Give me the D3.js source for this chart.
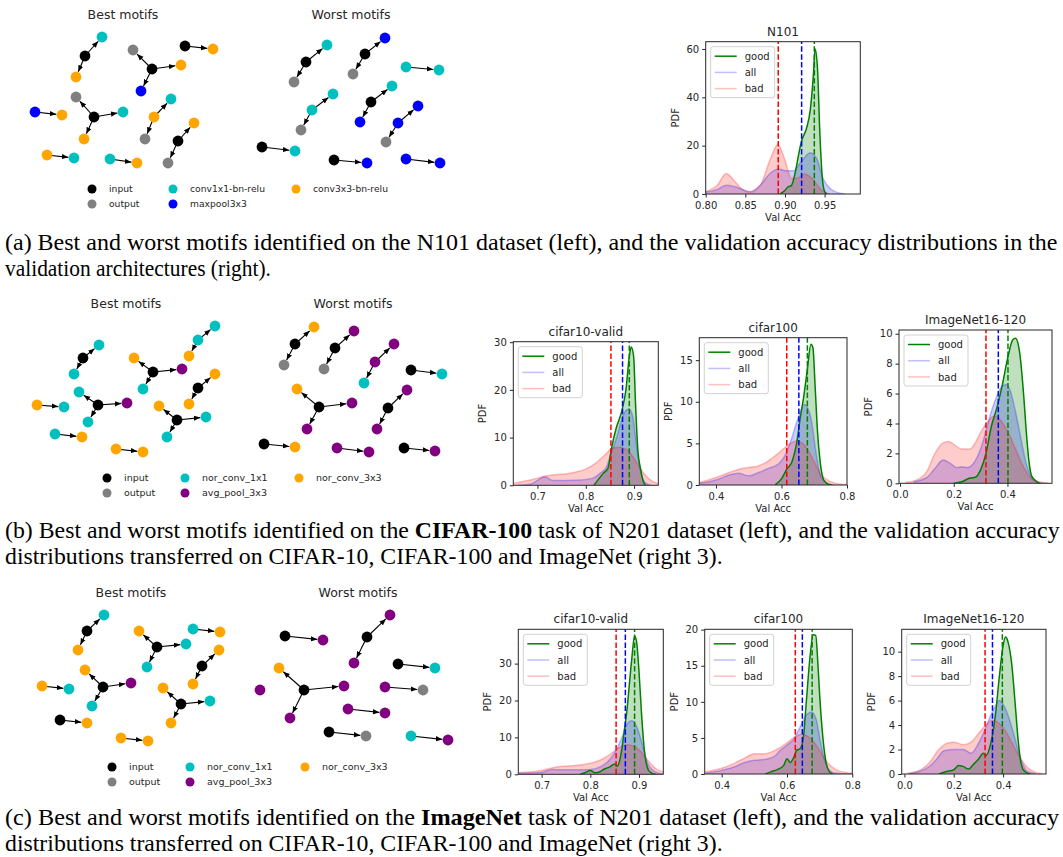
<!DOCTYPE html>
<html><head><meta charset="utf-8">
<script src="https://cdn.jsdelivr.net/npm/d3@7/dist/d3.min.js"></script>
<style>body{margin:0;background:#fff} svg{display:block} text{white-space:pre}</style>
</head><body>
<svg id="fig" width="1063" height="857"></svg>
<script>
// ---------------- DATA ----------------
const I='input', O='output';
const C1='conv1x1-bn-relu', C3='conv3x3-bn-relu', MP='maxpool3x3';
const N1='nor_conv_1x1', N3='nor_conv_3x3', AP='avg_pool_3x3';

const legendOpsA = [I, O, C1, MP, C3];
const legendOpsB = [I, O, N1, AP, N3];

// motif graphs: node 0 is the source, arrows go from node 0 to each other node; [op, u, v] layout units
const motifsABest = [
  [[I,85,56],[C1,102,37],[C3,76,77]],
  [[I,152,69],[O,133,50],[C3,181,65],[MP,141,91]],
  [[I,185,46],[C3,213,49]],
  [[MP,35,112],[C3,62,115]],
  [[I,94,117],[O,76,97],[C1,123,112],[C3,84,139]],
  [[C3,154,117],[C1,171,99],[O,145,139]],
  [[I,178,141],[C3,194,123],[O,168,163]],
  [[C3,47,155],[C1,74,158]],
  [[C1,110,159],[C3,137,163]]
];
const motifsAWorst = [
  [[I,306,62],[C1,327,45],[O,294,82]],
  [[I,365,54],[MP,385,38],[O,353,74]],
  [[C1,406,67],[C1,439,70]],
  [[C1,312,110],[C1,333,94],[O,301,130]],
  [[I,371,102],[C1,392,86],[MP,360,122]],
  [[MP,398,123],[MP,418,106],[O,386,142]],
  [[I,262,147],[C1,295,151]],
  [[I,334,160],[MP,367,163]],
  [[MP,406,159],[MP,440,163]]
];
const motifsBBest = [
  [[I,83,68],[N1,99,55],[N1,74,84]],
  [[I,153,82],[N3,134,68],[AP,182,79],[N1,143,99]],
  [[N1,198,50],[N1,215,36],[N3,189,66]],
  [[I,198,98],[N3,215,84],[N3,189,114]],
  [[I,98,115],[N1,79,102],[AP,127,113],[N1,88,132]],
  [[N3,37,115],[N1,64,117]],
  [[I,177,130],[N3,159,116],[N1,206,127],[N1,167,147]],
  [[N1,55,144],[N3,82,147]],
  [[N3,116,159],[N3,143,162]]
];
const motifsBWorst = [
  [[I,295,54],[N3,314,37],[O,284,75]],
  [[I,335,58],[AP,354,41],[O,324,79]],
  [[AP,375,72],[AP,394,54],[N1,364,93]],
  [[I,411,80],[N1,442,84]],
  [[I,319,117],[N3,297,99],[AP,352,113],[AP,307,139]],
  [[I,388,118],[AP,407,100],[AP,377,139]],
  [[I,264,154],[N3,295,157]],
  [[AP,337,158],[AP,369,162]],
  [[I,404,158],[AP,435,161]]
];
const motifsCBest = [
  [[I,87,51],[N1,104,35],[N3,78,70]],
  [[I,157,67],[N3,139,51],[N1,186,64],[N1,147,87]],
  [[N1,193,49],[N3,220,52]],
  [[I,202,86],[N3,219,70],[N3,193,104]],
  [[I,103,107],[N3,85,90],[AP,131,103],[N1,92,126]],
  [[N3,42,106],[N1,69,109]],
  [[I,181,124],[N3,163,108],[N1,210,121],[N3,171,143]],
  [[I,60,140],[N3,87,143]],
  [[N3,121,158],[N3,148,161]]
];
const motifsCWorst = [
  [[I,285,56],[AP,323,60]],
  [[I,367,57],[AP,390,35],[AP,354,83]],
  [[I,398,84],[N1,435,88]],
  [[I,304,110],[N3,279,88],[AP,344,106],[AP,290,138]],
  [[AP,260,110]],
  [[AP,385,107],[O,423,110]],
  [[AP,348,129],[AP,385,133]],
  [[I,329,152],[O,366,156]],
  [[N1,411,156],[AP,448,160]]
];

// KDE curves: [val acc, pdf]
const n101Good = [[0.894,0],[0.899,1.2],[0.904,3],[0.908,3.5],[0.913,9],[0.917,16],[0.921,22],[0.927,27],[0.932,35],[0.936,50],[0.938,60],[0.941,52],[0.944,25],[0.947,7],[0.950,1],[0.953,0]];
const n101All = [[0.80,0.8],[0.814,1.8],[0.826,3.6],[0.839,2.8],[0.856,1.0],[0.869,3.7],[0.881,8.5],[0.892,10.3],[0.902,9.6],[0.911,9.6],[0.919,12.7],[0.932,17.1],[0.940,14.7],[0.948,6.5],[0.957,2.3],[0.967,0.5],[0.976,0]];
const n101Bad = [[0.80,1.0],[0.814,3.4],[0.826,8.5],[0.837,5.1],[0.847,1.7],[0.856,0.7],[0.869,3.7],[0.881,14],[0.891,20.5],[0.900,14],[0.908,6.5],[0.915,6.5],[0.925,8.3],[0.934,6.5],[0.944,2.3],[0.953,0.3],[0.957,0]];
const n101Means = [0.937, 0.921, 0.8915];

const c10bGood = [[0.817,0],[0.836,2.5],[0.846,3.6],[0.853,7.7],[0.863,12],[0.874,15.4],[0.883,20],[0.89,27],[0.894,29],[0.899,27],[0.903,16.8],[0.908,7],[0.913,3.6],[0.919,0.8],[0.924,0]];
const c10bAll = [[0.66,0],[0.684,0.2],[0.701,1.1],[0.715,1.8],[0.732,1.0],[0.76,1.0],[0.788,1.1],[0.815,1.5],[0.829,2.5],[0.843,3.9],[0.853,7],[0.863,9.8],[0.874,13.7],[0.884,15.8],[0.89,16],[0.898,14],[0.905,8.4],[0.912,3.6],[0.92,0.9],[0.929,0.2],[0.936,0]];
const c10bBad = [[0.65,0.4],[0.68,1.0],[0.70,1.5],[0.72,2.0],[0.75,2.3],[0.78,2.8],[0.80,3.4],[0.82,4.6],[0.84,6.4],[0.855,7.8],[0.87,8.0],[0.885,7.5],[0.90,5.6],[0.915,3.2],[0.93,1.4],[0.95,0.3]];
const c10bMeans = [0.890, 0.876, 0.852];

const c100bGood = [[0.58,0],[0.601,0.8],[0.616,1.9],[0.632,2.8],[0.647,5.2],[0.657,8],[0.667,10.4],[0.678,13.6],[0.69,16.9],[0.696,16.5],[0.703,11.6],[0.71,6.4],[0.718,2.8],[0.729,0.6],[0.744,0.08],[0.754,0]];
const c100bAll = [[0.35,0.2],[0.40,0.6],[0.44,1.2],[0.47,1.4],[0.50,1.1],[0.53,1.5],[0.56,2.0],[0.59,2.5],[0.61,3.5],[0.63,5.5],[0.65,8],[0.67,9.7],[0.69,8],[0.705,4],[0.72,1.0],[0.74,0.2],[0.76,0]];
const c100bBad = [[0.35,0.3],[0.40,0.9],[0.44,1.5],[0.47,1.9],[0.50,2.1],[0.53,2.3],[0.56,2.9],[0.59,3.8],[0.62,4.8],[0.645,5.3],[0.67,4.8],[0.70,2.8],[0.72,1.3],[0.75,0.4],[0.78,0.1],[0.80,0.05]];
const c100bMeans = [0.679, 0.653, 0.616];

const inbGood = [[0.20,0],[0.23,0.1],[0.26,0.35],[0.28,0.4],[0.30,0.9],[0.32,2.0],[0.34,3.8],[0.36,5.0],[0.38,6.5],[0.40,8.3],[0.42,9.6],[0.43,9.7],[0.445,8.8],[0.46,6.0],[0.47,3.5],[0.48,1.5],[0.49,0.5],[0.51,0.1],[0.52,0]];
const inbAll = [[0.05,0.1],[0.10,0.4],[0.13,1.0],[0.16,1.55],[0.19,1.3],[0.21,1.05],[0.23,1.1],[0.25,1.05],[0.28,1.5],[0.30,2.3],[0.32,3.5],[0.34,4.8],[0.36,5.8],[0.38,6.5],[0.395,6.6],[0.41,6.2],[0.43,4.8],[0.45,3.0],[0.47,1.3],[0.49,0.4],[0.51,0.1],[0.53,0]];
const inbBad = [[0.02,0.05],[0.06,0.2],[0.10,0.8],[0.13,2.0],[0.16,2.7],[0.18,2.8],[0.20,2.6],[0.23,2.3],[0.26,2.3],[0.28,2.7],[0.30,3.4],[0.33,4.2],[0.35,4.5],[0.37,4.3],[0.40,3.5],[0.43,2.3],[0.46,1.1],[0.49,0.3],[0.52,0.08],[0.55,0.02]];
const inbMeans = [0.402, 0.366, 0.32];

const c10cGood = [[0.779,0],[0.79,0.5],[0.80,1.0],[0.81,0.4],[0.82,0.7],[0.83,1.5],[0.84,2.0],[0.85,2.8],[0.855,2.2],[0.86,3.5],[0.865,7],[0.87,12],[0.875,17],[0.88,24],[0.885,31],[0.891,37.5],[0.895,36],[0.90,28],[0.905,17],[0.91,8],[0.915,3],[0.92,1],[0.93,0.1],[0.935,0]];
const c10cAll = [[0.65,0.3],[0.70,0.5],[0.72,1.3],[0.75,1.2],[0.78,1.2],[0.80,1.3],[0.82,2.0],[0.84,4.0],[0.855,7.0],[0.865,10.0],[0.875,13.5],[0.885,14.5],[0.895,13.0],[0.905,9.0],[0.915,4.0],[0.925,1.5],[0.94,0.3],[0.95,0.1]];
const c10cBad = [[0.65,0.4],[0.70,1.0],[0.73,2.0],[0.76,2.3],[0.79,2.7],[0.82,3.8],[0.84,5.3],[0.86,7.3],[0.875,8.0],[0.89,7.6],[0.905,6.0],[0.92,3.5],[0.935,1.5],[0.95,0.6]];
const c10cMeans = [0.891, 0.872, 0.853];

const c100cGood = [[0.533,0],[0.55,0.3],[0.57,0.6],[0.59,1.2],[0.60,2.1],[0.61,1.6],[0.62,2.2],[0.63,3.3],[0.64,3.5],[0.65,5.0],[0.66,10.5],[0.67,16],[0.68,19.3],[0.688,19.2],[0.695,15],[0.70,11],[0.71,5],[0.72,1.5],[0.73,0.3],[0.74,0]];
const c100cAll = [[0.35,0.1],[0.40,0.5],[0.44,1.0],[0.47,1.6],[0.50,1.9],[0.53,2.0],[0.56,2.4],[0.58,3.3],[0.60,4.0],[0.62,4.8],[0.64,6.5],[0.66,8.2],[0.675,8.6],[0.69,7.5],[0.70,5.0],[0.715,2.0],[0.73,0.5],[0.75,0.1],[0.80,0]];
const c100cBad = [[0.35,0.3],[0.40,0.8],[0.44,1.5],[0.47,2.2],[0.50,2.8],[0.53,2.8],[0.56,3.2],[0.59,4.0],[0.62,5.0],[0.645,5.5],[0.67,5.0],[0.70,3.3],[0.72,1.8],[0.75,0.6],[0.78,0.2],[0.80,0.1]];
const c100cMeans = [0.677, 0.647, 0.6255];

const incGood = [[0.14,0],[0.17,0.2],[0.20,0.35],[0.22,0.7],[0.24,0.6],[0.26,0.4],[0.28,0.8],[0.30,1.2],[0.32,1.7],[0.33,1.5],[0.35,2.5],[0.37,5.0],[0.385,8.0],[0.40,10.5],[0.41,11.2],[0.42,10.8],[0.435,9.0],[0.45,5.5],[0.46,3.0],[0.47,1.2],[0.48,0.4],[0.50,0.05],[0.51,0]];
const incAll = [[0.02,0.05],[0.06,0.2],[0.10,0.6],[0.13,1.2],[0.16,1.9],[0.20,2.0],[0.24,2.0],[0.27,1.7],[0.30,2.5],[0.33,3.8],[0.35,4.8],[0.37,5.6],[0.385,6.0],[0.40,5.7],[0.42,4.8],[0.44,3.5],[0.46,2.0],[0.48,0.8],[0.50,0.2],[0.53,0.05]];
const incBad = [[0.01,0.05],[0.05,0.2],[0.10,0.9],[0.14,2.0],[0.17,2.5],[0.20,2.6],[0.24,2.4],[0.27,2.6],[0.30,3.3],[0.33,4.0],[0.355,4.4],[0.38,4.2],[0.41,3.5],[0.44,2.4],[0.47,1.3],[0.50,0.5],[0.53,0.15],[0.56,0.03]];
const incMeans = [0.397, 0.357, 0.327];

const seriesLabels = ['good','all','bad'];

const capA1 = [["(a) Best and worst motifs identified on the N101 dataset (left), and the validation accuracy distributions in the", false]];
const capA2 = [["validation architectures (right).", false]];
const capB1 = [["(b) Best and worst motifs identified on the ", false], ["CIFAR-100", true], [" task of N201 dataset (left), and the validation accuracy", false]];
const capB2 = [["distributions transferred on CIFAR-10, CIFAR-100 and ImageNet (right 3).", false]];
const capC1 = [["(c) Best and worst motifs identified on the ", false], ["ImageNet", true], [" task of N201 dataset (left), and the validation accuracy", false]];
const capC2 = [["distributions transferred on CIFAR-10, CIFAR-100 and ImageNet (right 3).", false]];

// ---------------- STYLE / LAYOUT ----------------
const SANS = "DejaVu Sans, sans-serif";
const SERIF = "Liberation Serif, Times New Roman, serif";
const TXT = '#262626';
const opColor = {
  [I]:'#000000', [O]:'#808080',
  [C1]:'#00bfbf', [C3]:'#ffa500', [MP]:'#0000ff',
  [N1]:'#00bfbf', [N3]:'#ffa500', [AP]:'#800080'
};
const seriesColor = ['#008000','#0000ff','#ff0000'];

const svg = d3.select('#fig');
svg.append('rect').attr('width',1063).attr('height',857).attr('fill','#fff');

const defs = svg.append('defs');
defs.append('marker').attr('id','arrow')
  .attr('markerUnits','userSpaceOnUse')
  .attr('markerWidth',7).attr('markerHeight',6)
  .attr('refX',6.5).attr('refY',3).attr('orient','auto')
  .append('path').attr('d','M0,0.4 L6.5,3 L0,5.6 Z').attr('fill','#000');

// ---------------- MOTIF PANELS ----------------
function drawMotifPanel(originY, best, worst, legendOps, titleX, titleY, legX, legY, legFont) {
  const g = svg.append('g');
  const sx = d3.scaleLinear().domain([0, 470]).range([0, 470]);
  const sy = d3.scaleLinear().domain([0, 215]).range([originY, originY + 215]);
  const R = 5.4;
  ['Best motifs','Worst motifs'].forEach((t,i) => {
    g.append('text').attr('x', titleX[i]).attr('y', sy(titleY) + 4.5)
      .attr('text-anchor','middle').attr('font-family',SANS).attr('font-size',12.5)
      .attr('fill',TXT).text(t);
  });
  const all = best.concat(worst);
  all.forEach(m => {
    const s = m[0];
    for (let k = 1; k < m.length; k++) {
      const t = m[k];
      const x1 = sx(s[1]), y1 = sy(s[2]), x2 = sx(t[1]), y2 = sy(t[2]);
      const d = Math.hypot(x2-x1, y2-y1);
      const ex = x2 - (x2-x1)/d*(R+0.3), ey = y2 - (y2-y1)/d*(R+0.3);
      g.append('line').attr('x1',x1).attr('y1',y1).attr('x2',ex).attr('y2',ey)
        .attr('stroke','#000').attr('stroke-width',1.1).attr('marker-end','url(#arrow)');
    }
  });
  all.forEach(m => m.forEach(n => {
    g.append('circle').attr('cx',sx(n[1])).attr('cy',sy(n[2])).attr('r',R).attr('fill',opColor[n[0]]);
  }));
  legendOps.forEach((op,i) => {
    const col = Math.floor(i/2), row = i%2;
    const cx = legX[col], cy = sy(legY[row]);
    g.append('circle').attr('cx',cx).attr('cy',cy).attr('r',4.5).attr('fill',opColor[op]);
    g.append('text').attr('x',cx+17).attr('y',cy+3.4).attr('font-family',SANS)
      .attr('font-size',legFont).attr('fill',TXT).text(op);
  });
}
drawMotifPanel(0,   motifsABest, motifsAWorst, legendOpsA, [123,351], 14, [92,173,296], [189,204], 9.2);
drawMotifPanel(290, motifsBBest, motifsBWorst, legendOpsB, [126,353], 13, [107,185,299], [188,203], 9.5);
drawMotifPanel(580, motifsCBest, motifsCWorst, legendOpsB, [131,358], 12, [112,190,305], [187,202], 9.5);

// ---------------- KDE PLOTS ----------------
let clipId = 0;
function drawKde(box, title, xDom, yDom, xTicks, yTicks, fmt, series, means) {
  const [L,T,Rr,B] = box;
  const x = d3.scaleLinear().domain(xDom).range([L,Rr]);
  const y = d3.scaleLinear().domain(yDom).range([B,T]);
  const g = svg.append('g');
  const id = 'clip' + (clipId++);
  defs.append('clipPath').attr('id',id).append('rect').attr('x',L).attr('y',T).attr('width',Rr-L).attr('height',B-T);
  const pg = g.append('g').attr('clip-path',`url(#${id})`);
  const area = d3.area().x(d=>x(d[0])).y0(y(0)).y1(d=>y(d[1])).curve(d3.curveMonotoneX);
  const line = d3.line().x(d=>x(d[0])).y(d=>y(d[1])).curve(d3.curveMonotoneX);
  const fillOp = [0.25, 0.2, 0.2];
  const lineOp = [1, 0.25, 0.25];
  series.forEach((s,i) => {
    pg.append('path').attr('d',area(s)).attr('fill',seriesColor[i]).attr('fill-opacity',fillOp[i]);
  });
  [1,2,0].forEach(i => {
    pg.append('path').attr('d',line(series[i])).attr('fill','none').attr('stroke',seriesColor[i])
      .attr('stroke-opacity',lineOp[i]).attr('stroke-width',1.5);
  });
  // mean lines (good, all, bad)
  means.forEach((m,i) => {
    pg.append('line').attr('x1',x(m)).attr('x2',x(m)).attr('y1',B).attr('y2',T)
      .attr('stroke',seriesColor[i]).attr('stroke-width',1.5).attr('stroke-dasharray','5.5,2.4');
  });
  // axes
  const xa = g.append('g').attr('transform',`translate(0,${B})`)
    .call(d3.axisBottom(x).tickValues(xTicks).tickFormat(d3.format(fmt)).tickSize(3.5).tickPadding(4));
  const ya = g.append('g').attr('transform',`translate(${L},0)`)
    .call(d3.axisLeft(y).tickValues(yTicks).tickFormat(d3.format('d')).tickSize(3.5).tickPadding(3));
  [xa,ya].forEach(a => {
    a.select('.domain').remove();
    a.selectAll('line').attr('stroke','#262626');
    a.selectAll('text').attr('font-family',SANS).attr('font-size',10).attr('fill',TXT);
  });
  g.append('rect').attr('x',L).attr('y',T).attr('width',Rr-L).attr('height',B-T)
    .attr('fill','none').attr('stroke','#262626').attr('stroke-width',1);
  g.append('text').attr('x',(L+Rr)/2).attr('y',T-6).attr('text-anchor','middle')
    .attr('font-family',SANS).attr('font-size',12).attr('fill',TXT).text(title);
  g.append('text').attr('x',(L+Rr)/2).attr('y',B+27).attr('text-anchor','middle')
    .attr('font-family',SANS).attr('font-size',10).attr('fill',TXT).text('Val Acc');
  g.append('text').attr('transform',`translate(${L-27},${(T+B)/2}) rotate(-90)`).attr('text-anchor','middle')
    .attr('font-family',SANS).attr('font-size',10).attr('fill',TXT).text('PDF');
  // legend
  const lx = L+5, ly = T+5;
  g.append('rect').attr('x',lx).attr('y',ly).attr('width',64).attr('height',51).attr('rx',2.5)
    .attr('fill','#fff').attr('fill-opacity',0.8).attr('stroke','#cccccc').attr('stroke-width',0.9);
  seriesLabels.forEach((lab,i) => {
    const cy = ly + 9.5 + i*16.2;
    g.append('line').attr('x1',lx+4).attr('x2',lx+26).attr('y1',cy).attr('y2',cy)
      .attr('stroke',seriesColor[i]).attr('stroke-opacity',lineOp[i]).attr('stroke-width',1.5);
    g.append('text').attr('x',lx+34).attr('y',cy+3.6).attr('font-family',SANS).attr('font-size',10)
      .attr('fill',TXT).text(lab);
  });
}

drawKde([705.7,41.7,860.3,194], 'N101', [0.8,0.995], [0,63], [0.80,0.85,0.90,0.95], [0,20,40,60], '.2f',
  [n101Good,n101All,n101Bad], n101Means);
drawKde([513.3,341.7,658.3,485.3], 'cifar10-valid', [0.65,0.95], [0,30.1], [0.7,0.8,0.9], [0,10,20,30], '.1f',
  [c10bGood,c10bAll,c10bBad], c10bMeans);
drawKde([699.3,337.7,847,485], 'cifar100', [0.349,0.8], [0,17.7], [0.4,0.6,0.8], [0,5,10,15], '.1f',
  [c100bGood,c100bAll,c100bBad], c100bMeans);
drawKde([899,330,1052,483.3], 'ImageNet16-120', [-0.004,0.566], [0,10.25], [0.0,0.2,0.4], [0,2,4,6,8,10], '.1f',
  [inbGood,inbAll,inbBad], inbMeans);
drawKde([518.3,629.3,663.3,774.3], 'cifar10-valid', [0.652,0.95], [0,39.3], [0.7,0.8,0.9], [0,10,20,30], '.1f',
  [c10cGood,c10cAll,c10cBad], c10cMeans);
drawKde([704.7,629.3,852.3,774], 'cifar100', [0.348,0.8], [0,20.05], [0.4,0.6,0.8], [0,5,10,15,20], '.1f',
  [c100cGood,c100cAll,c100cBad], c100cMeans);
drawKde([901.7,629.3,1046,774], 'ImageNet16-120', [-0.011,0.574], [0,11.83], [0.0,0.2,0.4], [0,2,4,6,8,10], '.1f',
  [incGood,incAll,incBad], incMeans);

// ---------------- CAPTIONS ----------------
function caption(parts, x, baseline, targetW) {
  const t = svg.append('text').attr('x',0).attr('y',0).attr('font-family',SERIF)
    .attr('font-size',22.5).attr('fill','#000');
  parts.forEach(p => t.append('tspan').attr('font-weight', p[1] ? 'bold' : 'normal').text(p[0]));
  const w = t.node().getComputedTextLength();
  t.attr('transform',`translate(${x},${baseline}) scale(${targetW/w},1)`);
}
caption(capA1, 5, 250, 1053);
caption(capA2, 5, 276, 266);
caption(capB1, 5, 538, 1055);
caption(capB2, 5, 564, 718);
caption(capC1, 5, 825, 1055);
caption(capC2, 5, 851, 718);
</script>
</body></html>
